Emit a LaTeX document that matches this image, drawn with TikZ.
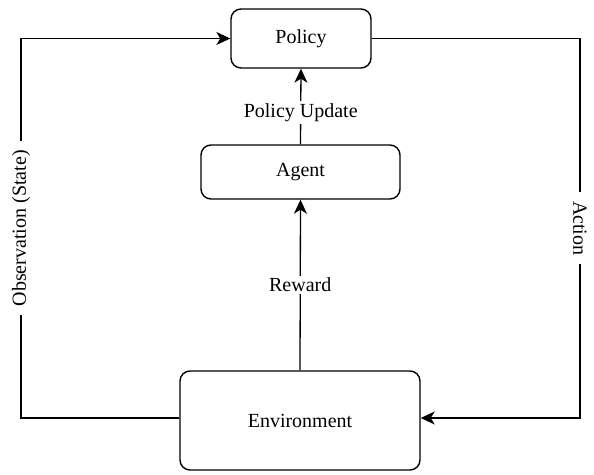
\documentclass[tikz,border=0pt]{standalone}
\usepackage{fontspec}
\setmainfont{Liberation Serif}
\usetikzlibrary{arrows.meta}
\begin{document}
\begin{tikzpicture}[x=1pt,y=-1pt,
  box/.style={draw, line width=1.4pt, rounded corners=10pt, fill=white, inner sep=0pt},
  conn/.style={line width=1.3pt, -{Stealth[length=14pt,width=13pt,inset=4pt]}},
  lbl/.style={fill=white, inner xsep=9pt, inner ysep=2pt},
  every node/.style={font=\fontsize{20}{24}\selectfont}]
\useasboundingbox (0,0) rectangle (594,474);
\node[box, minimum width=140pt, minimum height=59pt] (policy) at (301,38.5) {Policy};
\node[box, minimum width=199pt, minimum height=54pt] (agent) at (300.5,172) {Agent};
\node[box, minimum width=240pt, minimum height=99pt] (env) at (300,420.5) {Environment};
\coordinate (ol) at (21,418);
\coordinate (ar) at (580,418);
\draw[conn] (agent.north) -- node[lbl, inner xsep=2pt, pos=0.42] {Policy Update} (policy.south);
\draw[conn] (env.north) -- node[lbl, inner xsep=2pt] {Reward} (agent.south);
\draw[conn] (ol -| env.west) -- (ol) -- node[lbl, rotate=90] {Observation (State)} (ol |- policy.west) -- (policy.west);
\draw[conn] (policy.east) -- (ar |- policy.east) -- node[lbl, rotate=-90] {Action} (ar) -- (ar -| env.east);
\end{tikzpicture}
\end{document}
